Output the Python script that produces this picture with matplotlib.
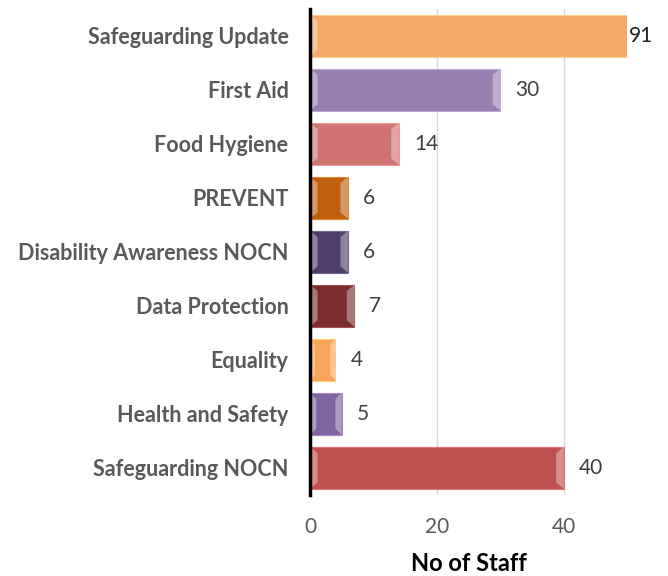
import matplotlib
matplotlib.use("Agg")
import matplotlib.pyplot as plt
from matplotlib.patches import Polygon
import matplotlib.colors as mcolors

categories = ["Safeguarding Update", "First Aid", "Food Hygiene", "PREVENT",
              "Disability Awareness NOCN", "Data Protection", "Equality",
              "Health and Safety", "Safeguarding NOCN"]
values = [91, 30, 14, 6, 6, 7, 4, 5, 40]
colors = ["#F5A96A", "#9980B3", "#D07373", "#C0600F", "#4F3D6B",
          "#7A2C2C", "#F9A65A", "#8064A2", "#C0504D"]
xticks = [0, 20, 40]
xmax = 50

FONT = "Lato"

fig = plt.figure(figsize=(6.68, 5.76), dpi=100)
ax = fig.add_axes([0.464, 0.141, 0.475, 0.844])

n = len(categories)
ypos = list(range(n))
h = 0.78
for y, v, c in zip(ypos, values, colors):
    vv = min(v, xmax)
    ax.barh(y, vv, height=h, color=c,
            edgecolor=mcolors.to_hex([min(1, x + 0.15) for x in mcolors.to_rgb(c)]),
            linewidth=0.8, zorder=3)
    light = [min(1, x * 0.55 + 0.45) for x in mcolors.to_rgb(c)]
    bw = min(1.2, vv * 0.2)
    ax.add_patch(Polygon([(0, y - h / 2), (bw, y - h / 2 + 0.12), (bw, y + h / 2 - 0.12), (0, y + h / 2)],
                         closed=True, facecolor=light, edgecolor="none", alpha=0.8, zorder=4))
    if v <= xmax:
        ax.add_patch(Polygon([(vv, y - h / 2), (vv - bw, y - h / 2 + 0.12), (vv - bw, y + h / 2 - 0.12), (vv, y + h / 2)],
                             closed=True, facecolor=light, edgecolor="none", alpha=0.8, zorder=4))
        ax.annotate(str(v), (vv, y), xytext=(15, 0), textcoords="offset pixels",
                    va="center", ha="left", fontsize=15, color="#404040", family=FONT)
    else:
        ax.annotate(str(v), (xmax, y), xytext=(2, 0), textcoords="offset pixels",
                    va="center", ha="left", fontsize=15, color="#202020", family=FONT,
                    annotation_clip=False)

ax.set_xlim(0, xmax)
ax.set_ylim(n - 0.5, -0.5)
ax.set_yticks(ypos)
ax.set_yticklabels(categories, fontsize=15.5, fontweight="bold", color="#595959", family=FONT)
ax.set_xticks(xticks)
ax.set_xticklabels([str(t) for t in xticks], fontsize=15, color="#595959", family=FONT)
ax.tick_params(axis="y", length=0, pad=15.5)
ax.tick_params(axis="x", length=0, pad=16)
ax.grid(axis="x", color="#D9D9D9", linewidth=1, zorder=0)
for s in ["top", "right", "bottom"]:
    ax.spines[s].set_visible(False)
ax.spines["left"].set_linewidth(2.5)
ax.spines["left"].set_color("black")
ax.spines["left"].set_zorder(5)
ax.set_xlabel("No of Staff", fontsize=17, fontweight="bold", color="black", family=FONT, labelpad=11)

fig.savefig("out.png", dpi=100)
